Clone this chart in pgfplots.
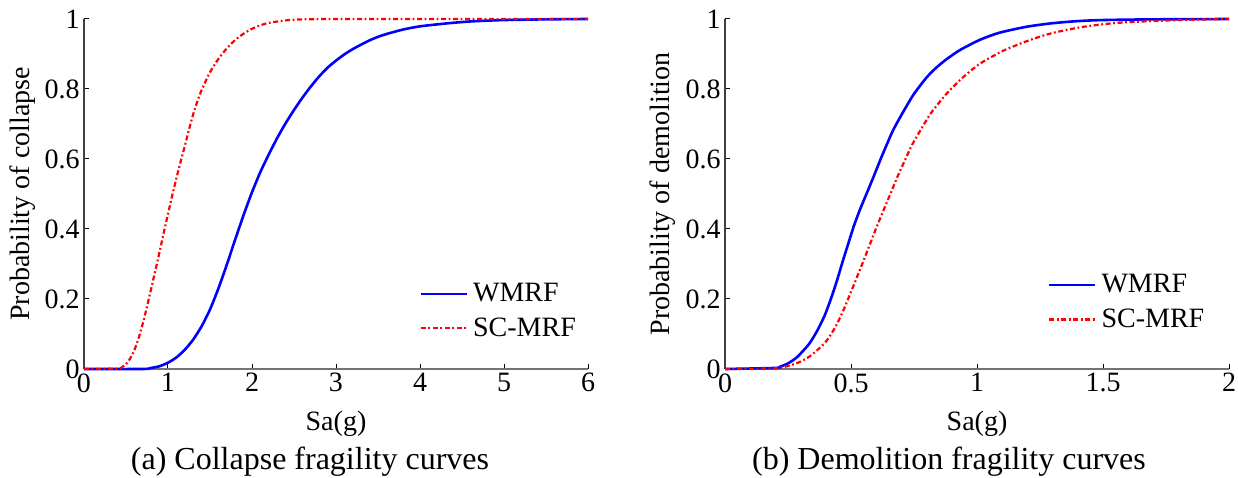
\documentclass[border=0pt]{standalone}
\usepackage{fontspec}
\setmainfont{Liberation Serif}
\usepackage{pgfplots}
\pgfplotsset{compat=1.18}

\definecolor{mblue}{RGB}{0,0,255}
\definecolor{mred}{RGB}{255,0,0}

\newcommand{\fs}{\fontsize{14}{16}\selectfont}

\pgfplotsset{
  frag/.style={
    scale only axis, height=175pt,
    axis x line=bottom, axis y line=left,
    axis line style={-, line width=0.7pt},
    x axis line style={black!55},
    y axis line style={black!75},
    tick align=inside, major tick length=2.5pt,
    tick style={black, line width=0.5pt},
    ymin=0, ymax=1, ytick={0,0.2,0.4,0.6,0.8,1},
    label style={font=\fs},
    ticklabel style={font=\fs},
    /pgf/number format/assume math mode=true,
    yticklabel style={inner xsep=2pt},
    xticklabel style={inner ysep=2pt},
    clip=false,
    legend style={draw=none, fill=none, font=\fs, anchor=north west,
      row sep=4.5pt, inner sep=0pt, nodes={inner xsep=2.5pt, inner ysep=1pt}},
    legend cell align=left,
    legend image code/.code={\draw[##1] (0pt,0pt) -- (23pt,0pt);},
    xlabel style={at={(axis description cs:0.5,-0.158)}, anchor=center},
  },
  wm/.style={mblue, line width=1.3pt, smooth, tension=0.4},
  sc/.style={mred, line width=1.1pt, smooth, tension=0.4,
    dash pattern=on 2.5pt off 1.3pt on 0.9pt off 1.3pt},
}

\begin{document}
\begin{tikzpicture}
\useasboundingbox (0,0) rectangle (619pt,238.5pt);

% (a) collapse
\begin{axis}[frag, at={(42pt,54pt)}, anchor=south west, width=252pt,
    xmin=0, xmax=6, xtick={0,1,2,3,4,5,6},
    xlabel={Sa(g)}, ylabel={Probability of collapse},
    ylabel style={at={(axis description cs:-0.121,0.5)}, anchor=center},
    legend style={at={(axis description cs:0.665,0.252)}}]
\addplot[wm] coordinates {
(0,0) (0.7,0) (0.8,0.003) (0.9,0.008) (1.0,0.018) (1.1,0.033) (1.2,0.055)
(1.3,0.084) (1.4,0.122) (1.5,0.17) (1.6,0.23) (1.7,0.298) (1.8,0.37)
(1.9,0.44) (2.0,0.505) (2.1,0.563) (2.2,0.613) (2.3,0.66) (2.4,0.702)
(2.5,0.74) (2.6,0.775) (2.7,0.807) (2.8,0.836) (2.9,0.861) (3.0,0.881)
(3.1,0.899) (3.2,0.914) (3.3,0.927) (3.4,0.939) (3.5,0.949) (3.6,0.957)
(3.8,0.97) (4.0,0.979) (4.3,0.987) (4.6,0.993) (5.0,0.997) (5.5,0.999)
(6.0,1.0)};
\addlegendentry{WMRF}
\addplot[sc] coordinates {
(0,0) (0.4,0.001) (0.45,0.005) (0.5,0.014) (0.55,0.03) (0.6,0.054)
(0.65,0.088) (0.7,0.13) (0.75,0.178) (0.8,0.23) (0.85,0.282) (0.9,0.335)
(0.95,0.39) (1.0,0.443) (1.05,0.495) (1.1,0.545) (1.15,0.592) (1.2,0.637)
(1.25,0.684) (1.3,0.728) (1.35,0.765) (1.4,0.797) (1.5,0.848) (1.6,0.886)
(1.7,0.916) (1.8,0.94) (1.9,0.958) (2.0,0.972) (2.1,0.982) (2.2,0.989)
(2.4,0.996) (2.6,0.999) (3.0,1.0) (4.0,1.0) (5.0,1.0) (6.0,1.0)};
\addlegendentry{SC-MRF}
\end{axis}

% (b) demolition
\begin{axis}[frag, at={(362.5pt,54pt)}, anchor=south west, width=252pt,
    xmin=0, xmax=2, xtick={0,0.5,1,1.5,2},
    xlabel={Sa(g)}, ylabel={Probability of demolition},
    ylabel style={at={(axis description cs:-0.123,0.5)}, anchor=center},
    legend style={at={(axis description cs:0.64,0.277)}}]
\addplot[wm] coordinates {
(0,0) (0.2,0.003) (0.22,0.007) (0.25,0.016) (0.286,0.034) (0.332,0.07)
(0.365,0.108) (0.395,0.152) (0.42,0.2) (0.444,0.252) (0.466,0.305)
(0.49,0.36) (0.512,0.41) (0.537,0.458) (0.563,0.503) (0.59,0.55)
(0.616,0.597) (0.643,0.643) (0.669,0.685) (0.709,0.737) (0.749,0.785)
(0.80,0.833) (0.84,0.862) (0.881,0.886) (0.934,0.912) (1.013,0.941)
(1.09,0.961) (1.198,0.978) (1.3,0.988) (1.4,0.994) (1.5,0.997)
(1.7,0.999) (2.0,1.0)};
\addlegendentry{WMRF}
\addplot[sc] coordinates {
(0,0) (0.2,0.002) (0.246,0.008) (0.29,0.018) (0.338,0.037) (0.398,0.076)
(0.438,0.12) (0.47,0.168) (0.497,0.215) (0.524,0.263) (0.55,0.31)
(0.577,0.36) (0.603,0.408) (0.63,0.455) (0.656,0.50) (0.683,0.547)
(0.715,0.598) (0.742,0.64) (0.782,0.69) (0.821,0.735) (0.881,0.788)
(0.947,0.835) (1.013,0.873) (1.106,0.91) (1.21,0.94) (1.3,0.96)
(1.4,0.975) (1.5,0.985) (1.6,0.991) (1.8,0.997) (2.0,1.0)};
\addlegendentry{SC-MRF}
\end{axis}

\node[anchor=base, font=\fontsize{16}{18}\selectfont] at (155pt,3.5pt) {(a) Collapse fragility curves};
\node[anchor=base, font=\fontsize{16}{18}\selectfont] at (474.5pt,3.5pt) {(b) Demolition fragility curves};
\end{tikzpicture}
\end{document}
